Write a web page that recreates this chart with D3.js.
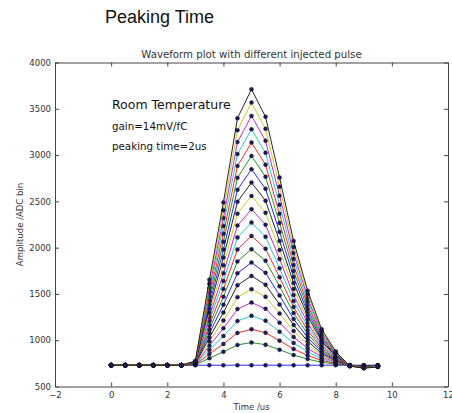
<!DOCTYPE html>
<html>
<head>
<meta charset="utf-8">
<script src="https://cdn.jsdelivr.net/npm/d3@7"></script>
<style>
  body { margin: 0; background: #fff; }
  text { font-family: "DejaVu Sans", sans-serif; }
</style>
</head>
<body>
<div id="chart"></div>
<script>
// sample times (us)
const timeUs = [0, 0.5, 1, 1.5, 2, 2.5, 3, 3.5, 4, 4.5, 5, 5.5, 6, 6.5, 7, 7.5, 8, 8.5, 9, 9.5];

// ADC amplitude per injected pulse (lowest to highest)
const w00 = [730, 730, 730, 730, 730, 730, 730, 730, 730, 730, 730, 730, 730, 730, 730, 730, 730, 730, 730, 730];
const w01 = [730, 730, 730, 730, 730, 730, 734, 806, 875, 949, 975, 951, 897, 840, 796, 762, 742, 729, 727, 729];
const w02 = [730, 730, 730, 730, 730, 730, 736, 851, 960, 1078, 1119, 1080, 995, 905, 835, 781, 750, 729, 726, 728];
const w03 = [730, 730, 730, 730, 730, 730, 738, 895, 1045, 1207, 1263, 1210, 1092, 970, 874, 799, 757, 728, 724, 727];
const w04 = [730, 730, 730, 730, 730, 730, 740, 940, 1129, 1336, 1407, 1339, 1190, 1035, 913, 818, 764, 728, 723, 726];
const w05 = [730, 730, 730, 730, 730, 730, 742, 985, 1214, 1465, 1551, 1469, 1288, 1099, 952, 837, 771, 728, 721, 725];
const w06 = [730, 730, 730, 730, 730, 730, 744, 1029, 1299, 1594, 1695, 1599, 1386, 1164, 991, 855, 778, 727, 719, 724];
const w07 = [730, 730, 730, 730, 730, 730, 747, 1074, 1384, 1723, 1839, 1728, 1484, 1229, 1029, 874, 785, 727, 718, 723];
const w08 = [730, 730, 730, 730, 730, 730, 749, 1118, 1469, 1851, 1983, 1858, 1582, 1294, 1068, 893, 793, 726, 716, 722];
const w09 = [730, 730, 730, 730, 730, 730, 751, 1163, 1554, 1980, 2127, 1987, 1680, 1359, 1107, 912, 800, 726, 715, 722];
const w10 = [730, 730, 730, 730, 730, 730, 753, 1208, 1639, 2109, 2271, 2117, 1778, 1423, 1146, 930, 807, 725, 713, 721];
const w11 = [730, 730, 730, 730, 730, 730, 755, 1252, 1724, 2238, 2415, 2247, 1876, 1488, 1185, 949, 814, 725, 711, 720];
const w12 = [730, 730, 730, 730, 730, 730, 757, 1297, 1809, 2367, 2559, 2376, 1974, 1553, 1224, 968, 821, 725, 710, 719];
const w13 = [730, 730, 730, 730, 730, 730, 760, 1342, 1894, 2496, 2703, 2506, 2072, 1618, 1263, 987, 829, 724, 708, 718];
const w14 = [730, 730, 730, 730, 730, 730, 762, 1386, 1979, 2625, 2847, 2635, 2170, 1683, 1302, 1005, 836, 724, 707, 717];
const w15 = [730, 730, 730, 730, 730, 730, 764, 1431, 2064, 2754, 2991, 2765, 2267, 1747, 1340, 1024, 843, 723, 705, 716];
const w16 = [730, 730, 730, 730, 730, 730, 766, 1476, 2149, 2882, 3135, 2895, 2365, 1812, 1379, 1043, 850, 723, 704, 716];
const w17 = [730, 730, 730, 730, 730, 730, 768, 1520, 2234, 3011, 3279, 3024, 2463, 1877, 1418, 1061, 857, 722, 702, 715];
const w18 = [730, 730, 730, 730, 730, 730, 770, 1565, 2319, 3140, 3423, 3154, 2561, 1942, 1457, 1080, 865, 722, 700, 714];
const w19 = [730, 730, 730, 730, 730, 730, 773, 1609, 2404, 3269, 3567, 3283, 2659, 2007, 1496, 1099, 872, 721, 699, 713];
const w20 = [730, 730, 730, 730, 730, 730, 775, 1654, 2489, 3398, 3711, 3413, 2757, 2071, 1535, 1118, 879, 721, 697, 712];

const waveforms = [w00, w01, w02, w03, w04, w05, w06, w07, w08, w09, w10,
                   w11, w12, w13, w14, w15, w16, w17, w18, w19, w20];

const xTicks = [-2, 0, 2, 4, 6, 8, 10, 12];
const yTicks = [500, 1000, 1500, 2000, 2500, 3000, 3500, 4000];

const notes = ["gain=14mV/fC", "peaking time=2us"];

// matplotlib classic colour cycle
const lineColors = ["#0000ff", "#008000", "#ff0000", "#00bfbf", "#bf00bf", "#bfbf00", "#000000"];

const W = 452, H = 413;
const margin = { top: 62.5, right: 4, bottom: 26.5, left: 55 };

const svg = d3.select("#chart")
    .append("svg")
    .attr("width", W)
    .attr("height", H);

const x = d3.scaleLinear().domain([-2, 12]).range([margin.left, W - margin.right]);
const y = d3.scaleLinear().domain([500, 4000]).range([H - margin.bottom, margin.top]);

// page title
svg.append("text")
    .attr("x", 105)
    .attr("y", 23)
    .style("font-family", "'Liberation Sans', Arial, sans-serif")
    .style("font-size", "18px")
    .attr("fill", "#111")
    .text("Peaking Time");

// plot title
svg.append("text")
    .attr("x", (x.range()[0] + x.range()[1]) / 2)
    .attr("y", 57.5)
    .attr("text-anchor", "middle")
    .style("font-size", "10.2px")
    .attr("fill", "#333")
    .text("Waveform plot with different injected pulse");

// waveforms
const line = d3.line()
    .x((d, i) => x(timeUs[i]))
    .y(d => y(d));

waveforms.forEach((wf, k) => {
    const g = svg.append("g");
    g.append("path")
        .datum(wf)
        .attr("d", line)
        .attr("fill", "none")
        .attr("stroke", lineColors[k % lineColors.length])
        .attr("stroke-opacity", 0.85)
        .attr("stroke-width", 1);
    g.selectAll("circle")
        .data(wf)
        .enter()
        .append("circle")
        .attr("cx", (d, i) => x(timeUs[i]))
        .attr("cy", d => y(d))
        .attr("r", 2)
        .attr("fill", "#1c1c5c")
        .attr("stroke", "#111")
        .attr("stroke-width", 0.4);
});

// axes, matplotlib style ticks pointing inward on all sides
const axisStyle = (g) => {
    g.select(".domain").attr("stroke", "#444");
    g.selectAll(".tick line").attr("stroke", "#444");
    g.selectAll("text")
        .style("font-family", "'DejaVu Sans', sans-serif")
        .style("font-size", "8.5px")
        .attr("fill", "#333");
};

svg.append("g")
    .attr("transform", "translate(0," + y.range()[0] + ")")
    .call(d3.axisBottom(x).tickValues(xTicks).tickFormat(d3.format("d"))
        .tickSizeInner(-4).tickSizeOuter(0).tickPadding(5))
    .call(axisStyle);

svg.append("g")
    .attr("transform", "translate(0," + y.range()[1] + ")")
    .call(d3.axisTop(x).tickValues(xTicks).tickFormat("")
        .tickSizeInner(-4).tickSizeOuter(0))
    .call(axisStyle);

svg.append("g")
    .attr("transform", "translate(" + x.range()[0] + ",0)")
    .call(d3.axisLeft(y).tickValues(yTicks).tickFormat(d3.format("d"))
        .tickSizeInner(-4).tickSizeOuter(0).tickPadding(4))
    .call(axisStyle);

svg.append("g")
    .attr("transform", "translate(" + x.range()[1] + ",0)")
    .call(d3.axisRight(y).tickValues(yTicks).tickFormat("")
        .tickSizeInner(-4).tickSizeOuter(0))
    .call(axisStyle);

// axis labels
svg.append("text")
    .attr("x", (x.range()[0] + x.range()[1]) / 2)
    .attr("y", 410)
    .attr("text-anchor", "middle")
    .style("font-size", "8.5px")
    .attr("fill", "#333")
    .text("Time /us");

svg.append("text")
    .attr("transform", "translate(23," + (y.range()[0] + y.range()[1]) / 2 + ")rotate(-90)")
    .attr("text-anchor", "middle")
    .style("font-size", "8.5px")
    .attr("fill", "#333")
    .text("Amplitude /ADC bin");

// annotations
svg.append("text")
    .attr("x", 112)
    .attr("y", 109)
    .style("font-size", "12.5px")
    .attr("fill", "#111")
    .text("Room Temperature");

svg.selectAll(".note")
    .data(notes)
    .enter()
    .append("text")
    .attr("class", "note")
    .attr("x", 112)
    .attr("y", (d, i) => 130 + i * 19.5)
    .style("font-size", "10.3px")
    .attr("fill", "#111")
    .text(d => d);
</script>
</body>
</html>
